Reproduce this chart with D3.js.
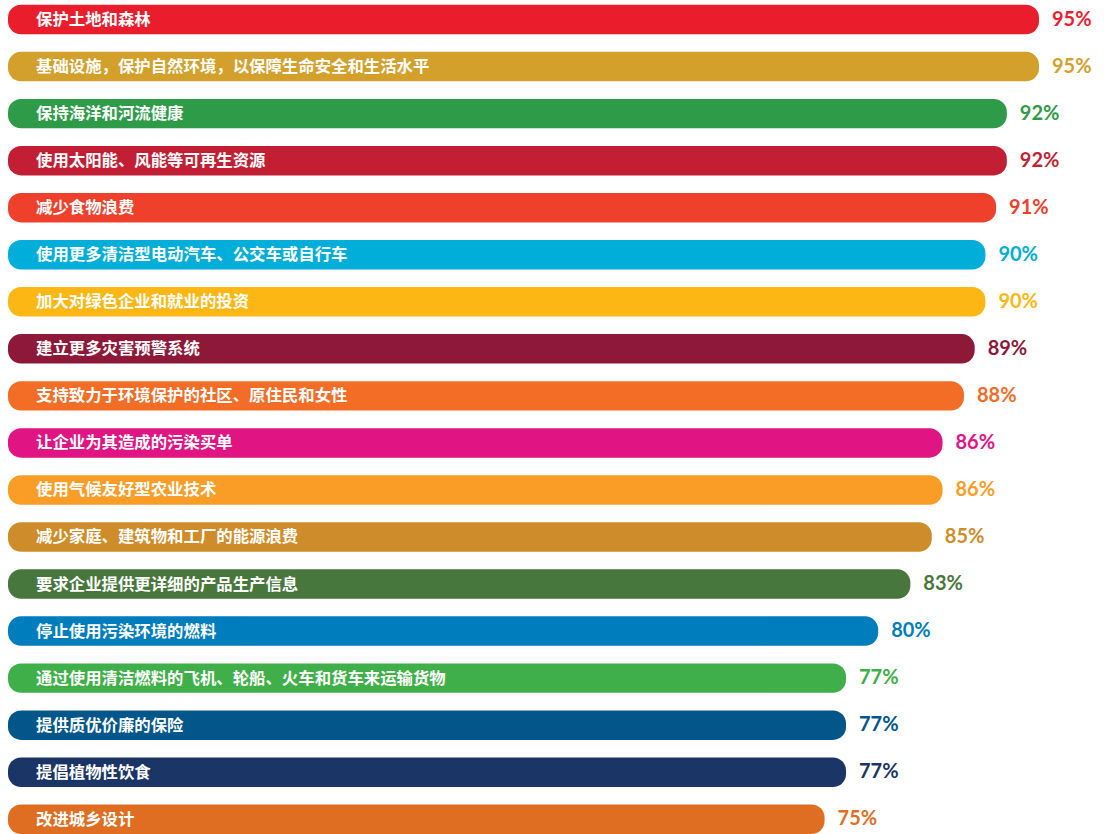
<!DOCTYPE html>
<html>
<head>
<meta charset="utf-8">
<script src="https://cdn.jsdelivr.net/npm/d3@7"></script>
<style>
  html, body { margin: 0; padding: 0; background: #fff; }
  svg { display: block; }
</style>
</head>
<body>
<svg id="chart" width="1104" height="834"></svg>
<script>
// Share of respondents supporting each climate action
const actions = [
  "保护土地和森林",
  "基础设施，保护自然环境，以保障生命安全和生活水平",
  "保持海洋和河流健康",
  "使用太阳能、风能等可再生资源",
  "减少食物浪费",
  "使用更多清洁型电动汽车、公交车或自行车",
  "加大对绿色企业和就业的投资",
  "建立更多灾害预警系统",
  "支持致力于环境保护的社区、原住民和女性",
  "让企业为其造成的污染买单",
  "使用气候友好型农业技术",
  "减少家庭、建筑物和工厂的能源浪费",
  "要求企业提供更详细的产品生产信息",
  "停止使用污染环境的燃料",
  "通过使用清洁燃料的飞机、轮船、火车和货车来运输货物",
  "提供质优价廉的保险",
  "提倡植物性饮食",
  "改进城乡设计"
];
const support = [95, 95, 92, 92, 91, 90, 90, 89, 88, 86, 86, 85, 83, 80, 77, 77, 77, 75];
const barColors = [
  "#EA1D2D", "#D3A02B", "#2E9B48", "#C21F34", "#EF402C", "#00AED9",
  "#FDB714", "#8E1838", "#F36D26", "#E01483", "#F99D27", "#CE8D2A",
  "#48773D", "#007DBC", "#3FAF49", "#02568A", "#1B3666", "#DF6E22"
];

const rows = actions.map((a, i) => ({ action: a, value: support[i], color: barColors[i] }));

const svg = d3.select("#chart");

// bars start at a rounded left cap; the value scale begins just inside it
const barLeft = 8;
const x = d3.scaleLinear().domain([0, 95]).range([20.5, 1039]);
const y = d3.scaleBand()
  .domain(actions)
  .range([4.8, 834])
  .paddingInner(0.374)
  .paddingOuter(0);

const g = svg.selectAll("g.row")
  .data(rows)
  .join("g")
  .attr("class", "row")
  .attr("transform", d => `translate(0,${y(d.action)})`);

g.append("rect")
  .attr("x", barLeft)
  .attr("y", 0)
  .attr("width", d => x(d.value) - barLeft)
  .attr("height", y.bandwidth())
  .attr("rx", 13)
  .attr("ry", 13)
  .attr("fill", d => d.color);

g.append("text")
  .attr("x", 36)
  .attr("y", y.bandwidth() / 2 + 1)
  .attr("dominant-baseline", "middle")
  .attr("fill", "#fff")
  .style("font-family", "'Noto Sans CJK SC', sans-serif")
  .style("font-weight", 700)
  .style("font-size", "16.4px")
  .text(d => d.action);

g.append("text")
  .attr("x", d => x(d.value) + 13)
  .attr("y", y.bandwidth() / 2 + 1)
  .attr("dominant-baseline", "middle")
  .attr("fill", d => d.color)
  .style("font-family", "Lato, sans-serif")
  .style("font-weight", 700)
  .style("font-size", "20px")
  .text(d => d.value + "%");
</script>
</body>
</html>
